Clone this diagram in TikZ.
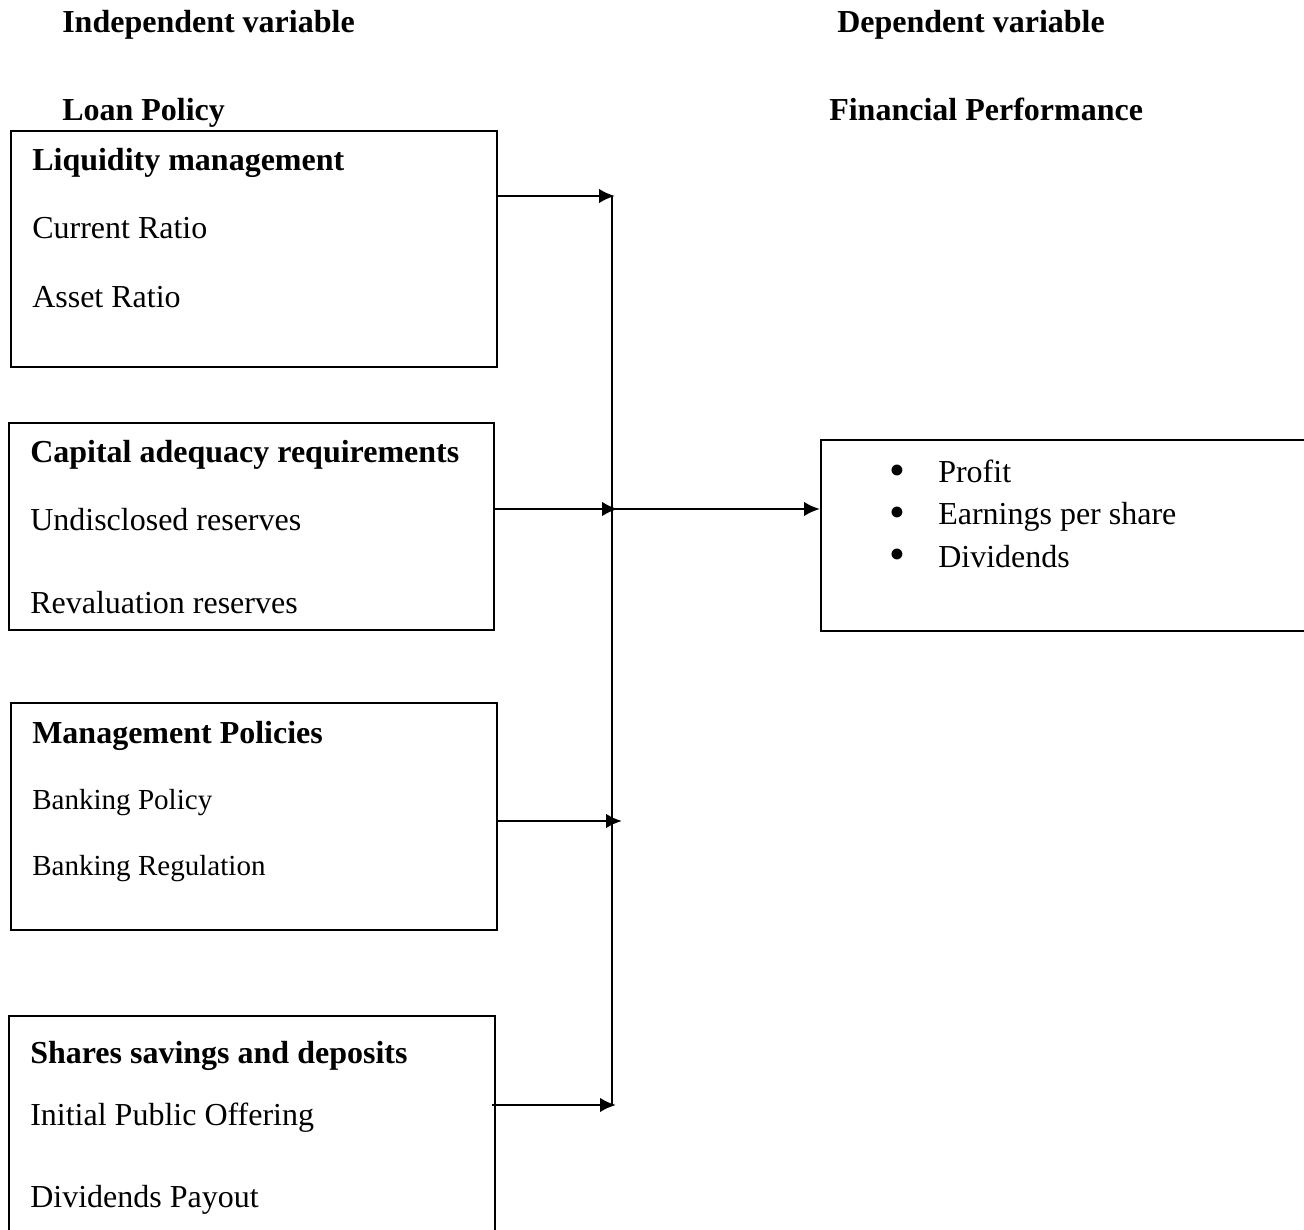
\documentclass[tikz,border=0pt]{standalone}
\usepackage{fontspec}
\setmainfont{Liberation Serif}
\usetikzlibrary{fit,arrows.meta}
\tikzset{
  box/.style={draw, line width=1.5pt, inner sep=0pt},
  lbl/.style={anchor=base west, inner sep=0pt, font=\fontsize{24pt}{28pt}\selectfont},
  hd/.style={lbl, font=\fontsize{24pt}{28pt}\selectfont\bfseries},
  sm/.style={lbl, font=\fontsize{21.8pt}{26pt}\selectfont},
  bul/.style={anchor=center, inner sep=0pt, font=\fontsize{34pt}{36pt}\selectfont},
  conn/.style={line width=1.7pt},
  arr/.style={line width=2pt, -{Latex[length=12pt,width=11pt]}}
}
\begin{document}
\begin{tikzpicture}[x=0.75pt,y=-0.75pt]
\useasboundingbox (0,0) rectangle (1304,1230);
\clip (0,0) rectangle (1304,1230);
% headings
\node[hd] (indep) at (62,33) {Independent variable};
\node[hd] (dep) at (837,33) {Dependent variable};
\node[hd] (loan) at (62,121) {Loan Policy};
\node[hd] (fin) at (829,121) {Financial Performance};
% boxes
\node[box, fit={(11,131) (497,367)}] (b1) {};
\node[box, fit={(9,423) (494,630)}] (b2) {};
\node[box, fit={(11,703) (497,930)}] (b3) {};
\node[box, fit={(9,1016) (495,1250)}] (b4) {};
\node[box, fit={(821,440) (1330,631)}] (out) {};
% box 1
\node[hd] (t11) at (32,171) {Liquidity management};
\node[lbl] (t12) at (32,239) {Current Ratio};
\node[lbl] (t13) at (32,308) {Asset Ratio};
% box 2
\node[hd] (t21) at (30,463) {Capital adequacy requirements};
\node[lbl] (t22) at (30,531) {Undisclosed reserves};
\node[lbl] (t23) at (30,614) {Revaluation reserves};
% box 3
\node[hd] (t31) at (32,743) {Management Policies};
\node[sm] (t32) at (32,809) {Banking Policy};
\node[sm] (t33) at (32,875) {Banking Regulation};
% box 4
\node[hd] (t41) at (30,1063) {Shares savings and deposits};
\node[lbl] (t42) at (30,1125) {Initial Public Offering};
\node[lbl] (t43) at (30,1207) {Dividends Payout};
% output box
\node[bul] (bu1) at (897,475) {\textbullet};
\node[bul] (bu2) at (897,517) {\textbullet};
\node[bul] (bu3) at (897,559) {\textbullet};
\node[lbl] (o1) at (938,483) {Profit};
\node[lbl] (o2) at (938,525) {Earnings per share};
\node[lbl] (o3) at (938,567) {Dividends};
% connectors
\coordinate (jtop) at (612,196);
\coordinate (jbot) at (612,1105);
\coordinate (j2) at (612,509);
\coordinate (e1) at (615,196);
\coordinate (e2) at (618,509);
\coordinate (e3) at (622,821);
\coordinate (e4) at (616,1105);
\draw[conn] (jtop) -- (jbot);
\draw[arr] (b1.east |- e1) -- (e1);
\draw[arr] (b2.east |- e2) -- (e2);
\draw[arr] (b3.east |- e3) -- (e3);
\draw[arr] ([xshift=-3pt]b4.east |- e4) -- (e4);
\draw[arr] (j2) -- (out.west |- j2);
\end{tikzpicture}
\end{document}
